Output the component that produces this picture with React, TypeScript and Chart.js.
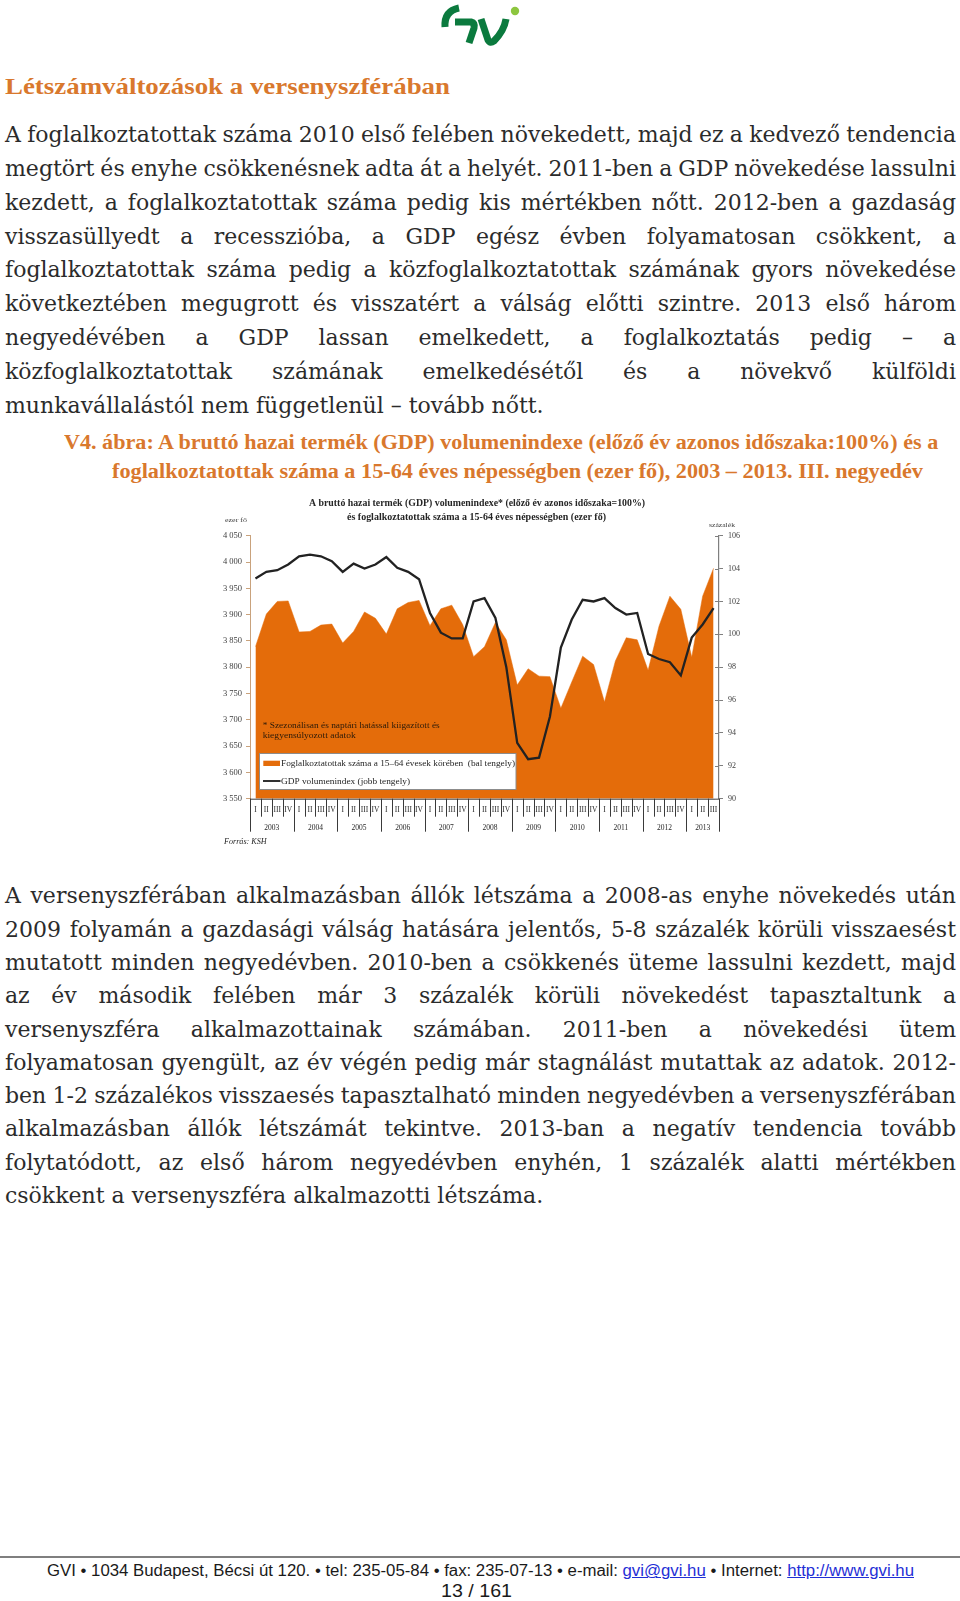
import React, { useEffect, useLayoutEffect, useRef } from 'react';
import { Chart, registerables } from 'chart.js';

Chart.register(...registerables);

// ---------- chart data ----------
const quarterLabels = [
  '2003 I', '2003 II', '2003 III', '2003 IV',
  '2004 I', '2004 II', '2004 III', '2004 IV',
  '2005 I', '2005 II', '2005 III', '2005 IV',
  '2006 I', '2006 II', '2006 III', '2006 IV',
  '2007 I', '2007 II', '2007 III', '2007 IV',
  '2008 I', '2008 II', '2008 III', '2008 IV',
  '2009 I', '2009 II', '2009 III', '2009 IV',
  '2010 I', '2010 II', '2010 III', '2010 IV',
  '2011 I', '2011 II', '2011 III', '2011 IV',
  '2012 I', '2012 II', '2012 III', '2012 IV',
  '2013 I', '2013 II', '2013 III',
];
const yearLabels = ['2003', '2004', '2005', '2006', '2007', '2008', '2009', '2010', '2011', '2012', '2013'];
const quarterNames = ['I', 'II', 'III', 'IV'];

// Foglalkoztatottak száma a 15–64 évesek körében (ezer fő) – bal tengely
const employed = [
  3839, 3901, 3925, 3926, 3867, 3868, 3880, 3882,
  3846, 3868, 3905, 3893, 3863, 3911, 3923, 3927,
  3879, 3911, 3918, 3881, 3820, 3839, 3885, 3852,
  3766, 3797, 3783, 3782, 3722, 3772, 3821, 3805,
  3734, 3812, 3856, 3852, 3794, 3878, 3935, 3910,
  3819, 3935, 3988,
];
// GDP volumenindex (előző év azonos időszaka = 100%) – jobb tengely
const gdpIndex = [
  103.4, 103.8, 103.9, 104.25, 104.75, 104.85, 104.75, 104.45,
  103.8, 104.3, 104.0, 104.25, 104.7, 104.05, 103.8, 103.35,
  101.3, 100.1, 99.75, 99.75, 102.0, 102.2, 101.0, 98.0,
  93.4, 92.4, 92.5, 95.0, 99.2, 100.9, 102.1, 102.0,
  102.2, 101.6, 101.2, 101.3, 98.8, 98.5, 98.3, 97.5,
  99.8, 100.6, 101.6,
];

const leftMin = 3550;
const leftMax = 4050;
const leftStep = 50;
const rightMin = 90;
const rightMax = 106;
const rightStep = 2;

const chartTitle1 = 'A bruttó hazai termék (GDP) volumenindexe* (előző év azonos időszaka=100%)';
const chartTitle2 = 'és foglalkoztatottak száma a 15-64 éves népességben (ezer fő)';
const leftUnit = 'ezer fő';
const rightUnit = 'százalék';
const noteLine1 = '* Szezonálisan és naptári hatással kiigazított és';
const noteLine2 = 'kiegyensúlyozott adatok';
const legendEmp = 'Foglalkoztatottak száma a 15–64 évesek körében  (bal tengely)';
const legendGdp = 'GDP volumenindex (jobb tengely)';
const sourceText = 'Forrás: KSH';

// ---------- page text ----------
const heading = 'Létszámváltozások a versenyszférában';
const para1 = [
  'A foglalkoztatottak száma 2010 első felében növekedett, majd ez a kedvező tendencia',
  'megtört és enyhe csökkenésnek adta át a helyét. 2011-ben a GDP növekedése lassulni',
  'kezdett, a foglalkoztatottak száma pedig kis mértékben nőtt. 2012-ben a gazdaság',
  'visszasüllyedt a recesszióba, a GDP egész évben folyamatosan csökkent, a',
  'foglalkoztatottak száma pedig a közfoglalkoztatottak számának gyors növekedése',
  'következtében megugrott és visszatért a válság előtti szintre. 2013 első három',
  'negyedévében a GDP lassan emelkedett, a foglalkoztatás pedig – a',
  'közfoglalkoztatottak számának emelkedésétől és a növekvő külföldi',
  'munkavállalástól nem függetlenül – tovább nőtt.',
];
const caption1 = 'V4. ábra: A bruttó hazai termék (GDP) volumenindexe (előző év azonos időszaka:100%) és a';
const caption2 = 'foglalkoztatottak száma a 15-64 éves népességben (ezer fő), 2003 – 2013. III. negyedév';
const para2 = [
  'A versenyszférában alkalmazásban állók létszáma a 2008-as enyhe növekedés után',
  '2009 folyamán a gazdasági válság hatására jelentős, 5-8 százalék körüli visszaesést',
  'mutatott minden negyedévben. 2010-ben a csökkenés üteme lassulni kezdett, majd',
  'az év második felében már 3 százalék körüli növekedést tapasztaltunk a',
  'versenyszféra alkalmazottainak számában. 2011-ben a növekedési ütem',
  'folyamatosan gyengült, az év végén pedig már stagnálást mutattak az adatok. 2012-',
  'ben 1-2 százalékos visszaesés tapasztalható minden negyedévben a versenyszférában',
  'alkalmazásban állók létszámát tekintve. 2013-ban a negatív tendencia tovább',
  'folytatódott, az első három negyedévben enyhén, 1 százalék alatti mértékben',
  'csökkent a versenyszféra alkalmazotti létszáma.',
];

const ORANGE = '#E46C0A';
const HEAD_ORANGE = '#D9782D';
const BODY = '"DejaVu Serif", serif';
const SERIF = '"Liberation Serif", serif';
const SANS = '"Liberation Sans", Arial, sans-serif';

type LineProps = {
  x: number;
  baseline: number;
  width?: number;
  mode?: 'justify' | 'fit' | 'none';
  family: string;
  size: number;
  weight?: number;
  color?: string;
  italic?: boolean;
  children: React.ReactNode;
};

function Line({ x, baseline, width, mode = 'none', family, size, weight = 400, color = '#2b2b2b', italic = false, children }: LineProps) {
  const ref = useRef<HTMLSpanElement>(null);
  useLayoutEffect(() => {
    const el = ref.current;
    if (!el) return;
    const apply = () => {
      el.style.wordSpacing = '0px';
      el.style.transform = 'none';
      const w = el.getBoundingClientRect().width;
      if (!width || !w) return;
      if (mode === 'justify') {
        const n = ((el.textContent || '').match(/ /g) || []).length;
        if (n) el.style.wordSpacing = `${(width - w) / n}px`;
      } else if (mode === 'fit') {
        el.style.transform = `scaleX(${width / w})`;
      }
    };
    apply();
    if ((document as any).fonts && (document as any).fonts.ready) {
      (document as any).fonts.ready.then(apply);
    }
  });
  const lh = Math.round(size * 1.4);
  const top = baseline - (lh / 2 + 0.346 * size);
  return (
    <div
      style={{
        position: 'absolute',
        left: x,
        top,
        height: lh,
        lineHeight: `${lh}px`,
        whiteSpace: 'pre',
        fontFamily: family,
        fontSize: size,
        fontWeight: weight,
        fontStyle: italic ? 'italic' : 'normal',
        color,
      }}
    >
      <span ref={ref} style={{ display: 'inline-block', transformOrigin: '0 50%' }}>
        {children}
      </span>
    </div>
  );
}

function fitText(
  ctx: CanvasRenderingContext2D,
  text: string,
  x: number,
  y: number,
  width: number | null,
  font: string,
  color: string,
  align: 'left' | 'center' | 'right' = 'left'
) {
  ctx.save();
  ctx.font = font;
  ctx.fillStyle = color;
  ctx.textBaseline = 'alphabetic';
  ctx.textAlign = 'left';
  const w = ctx.measureText(text).width;
  const tw = width || w;
  const sx = width ? width / w : 1;
  let x0 = x;
  if (align === 'center') x0 = x - tw / 2;
  if (align === 'right') x0 = x - tw;
  ctx.translate(x0, y);
  ctx.scale(sx, 1);
  ctx.fillText(text, 0, 0);
  ctx.restore();
}

const decorPlugin = {
  id: 'decor',
  afterDraw(chart: any) {
    const ctx: CanvasRenderingContext2D = chart.ctx;
    const x = chart.scales.x;
    const y1 = chart.scales.y1;
    const area = chart.chartArea;
    const text = '#262626';

    // titles
    fitText(ctx, chartTitle1, 277, 25.5, 336, `bold 9.5px ${SERIF}`, text, 'center');
    fitText(ctx, chartTitle2, 276.5, 40, 259, `bold 9.5px ${SERIF}`, text, 'center');
    fitText(ctx, leftUnit, 25, 41.5, 22, `6.5px ${SERIF}`, '#404040');
    fitText(ctx, rightUnit, 509, 46.5, 26, `6.5px ${SERIF}`, '#404040');

    // bottom axis line
    ctx.save();
    ctx.strokeStyle = '#3a3a3a';
    ctx.lineWidth = 1;
    ctx.beginPath();
    ctx.moveTo(area.left, area.bottom + 0.5);
    ctx.lineTo(area.right, area.bottom + 0.5);
    ctx.stroke();

    // right axis inner tick marks
    ctx.strokeStyle = '#7f7f7f';
    for (let v = rightMin; v <= rightMax; v += rightStep) {
      const py = Math.round(y1.getPixelForValue(v)) + 0.5;
      ctx.beginPath();
      ctx.moveTo(area.right - 4, py);
      ctx.lineTo(area.right, py);
      ctx.stroke();
    }

    // category separators & labels
    const step = x.getPixelForValue(1) - x.getPixelForValue(0);
    ctx.strokeStyle = '#3a3a3a';
    for (let i = 0; i <= quarterLabels.length; i++) {
      const bx = Math.round(x.getPixelForValue(i) - step / 2) + 0.5;
      const isYear = i % 4 === 0 || i === quarterLabels.length;
      ctx.beginPath();
      ctx.moveTo(bx, area.bottom);
      ctx.lineTo(bx, area.bottom + (isYear ? 33 : 18));
      ctx.stroke();
    }
    ctx.restore();
    for (let i = 0; i < quarterLabels.length; i++) {
      const cx = x.getPixelForValue(i);
      fitText(ctx, quarterNames[i % 4], cx, area.bottom + 13.5, null, `7.5px ${SERIF}`, text, 'center');
    }
    for (let k = 0; k < yearLabels.length; k++) {
      const first = k * 4;
      const last = Math.min(first + 3, quarterLabels.length - 1);
      const cx = (x.getPixelForValue(first) + x.getPixelForValue(last)) / 2;
      fitText(ctx, yearLabels[k], cx, area.bottom + 31, null, `7.5px ${SERIF}`, text, 'center');
    }

    // note
    fitText(ctx, noteLine1, 62.7, 247.5, 177, `8px ${SERIF}`, '#2a1a0a');
    fitText(ctx, noteLine2, 62.7, 258.2, 93, `8px ${SERIF}`, '#2a1a0a');

    // legend box
    ctx.save();
    ctx.fillStyle = '#ffffff';
    ctx.fillRect(59.3, 273.3, 256.7, 36);
    ctx.strokeStyle = '#8c8c8c';
    ctx.lineWidth = 1;
    ctx.strokeRect(59.5, 273.5, 256.5, 36);
    ctx.fillStyle = ORANGE;
    ctx.fillRect(63.3, 280.7, 16.7, 5.3);
    ctx.strokeStyle = '#1a1a1a';
    ctx.lineWidth = 1.8;
    ctx.beginPath();
    ctx.moveTo(63, 301);
    ctx.lineTo(80.5, 301);
    ctx.stroke();
    ctx.restore();
    fitText(ctx, legendEmp, 81, 285.8, 234, `8px ${SERIF}`, text);
    fitText(ctx, legendGdp, 81, 303.8, 129, `8px ${SERIF}`, text);

    // source
    fitText(ctx, sourceText, 24, 364.2, 42.7, `italic 8.5px ${SERIF}`, text);
  },
};

function GdpChart() {
  const ref = useRef<HTMLCanvasElement>(null);
  useEffect(() => {
    if (!ref.current) return;
    const fmt = (v: number) => {
      const th = Math.floor(v / 1000);
      const rest = String(Math.round(v % 1000)).padStart(3, '0');
      return `${th} ${rest}`;
    };
    const chart = new Chart(ref.current, {
      type: 'line',
      data: {
        labels: quarterLabels,
        datasets: [
          {
            label: legendGdp,
            data: gdpIndex,
            yAxisID: 'y1',
            borderColor: '#222222',
            borderWidth: 2.3,
            pointRadius: 0,
            fill: false,
            tension: 0,
            order: 0,
          },
          {
            label: legendEmp,
            data: employed,
            yAxisID: 'y',
            backgroundColor: ORANGE,
            borderColor: ORANGE,
            borderWidth: 0.5,
            pointRadius: 0,
            fill: 'start',
            tension: 0,
            order: 1,
          },
        ],
      },
      options: {
        responsive: false,
        animation: false,
        events: [],
        layout: { padding: { top: 55.7, left: 0, right: 0, bottom: 0 } },
        plugins: {
          legend: { display: false },
          tooltip: { enabled: false },
          title: { display: false },
        },
        scales: {
          x: {
            type: 'category',
            offset: true,
            grid: { display: false },
            border: { display: false },
            ticks: { display: false },
            afterFit: (s: any) => {
              s.height = 56.3;
            },
          },
          y: {
            position: 'left',
            min: leftMin,
            max: leftMax,
            ticks: {
              stepSize: leftStep,
              padding: 4,
              color: '#404040',
              font: { family: SERIF, size: 8.5 },
              callback: (v: any) => fmt(Number(v)),
            },
            grid: { drawOnChartArea: false, tickLength: 4, color: '#c9a27c' },
            border: { color: '#c9a27c', width: 1 },
            afterFit: (s: any) => {
              s.width = 50;
            },
          },
          y1: {
            position: 'right',
            min: rightMin,
            max: rightMax,
            ticks: {
              stepSize: rightStep,
              padding: 5,
              color: '#404040',
              font: { family: SERIF, size: 8 },
            },
            grid: { drawOnChartArea: false, tickLength: 4, color: '#7f7f7f' },
            border: { color: '#7f7f7f', width: 1.2 },
            afterFit: (s: any) => {
              s.width = 41;
            },
          },
        },
      } as any,
      plugins: [decorPlugin],
    });
    return () => chart.destroy();
  }, []);
  return (
    <canvas
      ref={ref}
      width={560}
      height={375}
      style={{ position: 'absolute', left: 200, top: 480, width: 560, height: 375 }}
    />
  );
}

function Logo() {
  return (
    <svg
      width={90}
      height={48}
      viewBox="0 0 90 48"
      style={{ position: 'absolute', left: 438, top: 0 }}
    >
      <path d="M7 27 Q6 11 21 8" stroke="#0b7a3e" strokeWidth={7} fill="none" strokeLinecap="butt" />
      <path d="M17 22 L33 22 Q37 23 36 28 L31 43" stroke="#0b7a3e" strokeWidth={7} fill="none" />
      <path d="M43 19 L50 40 Q52 44 56 41 Q66 31 68 19" stroke="#0b7a3e" strokeWidth={7} fill="none" />
      <circle cx={77} cy={11} r={4.2} fill="#8dc63f" />
    </svg>
  );
}

export default function App() {
  const p1Base = 142.3;
  const p1Step = 33.8;
  const p2Base = 903.3;
  const p2Step = 33.33;
  return (
    <div style={{ position: 'absolute', left: 0, top: 0, width: 960, height: 1601, background: '#ffffff', overflow: 'hidden' }}>
      <Logo />
      <Line x={5} baseline={94} width={445} mode="fit" family={SERIF} size={24} weight={700} color={HEAD_ORANGE}>
        {heading}
      </Line>
      {para1.map((t, i) => (
        <Line
          key={'p1' + i}
          x={5}
          baseline={p1Base + p1Step * i}
          width={951}
          mode={i === para1.length - 1 ? 'none' : 'justify'}
          family={BODY}
          size={22}
        >
          {t}
        </Line>
      ))}
      <Line x={64.3} baseline={449.3} width={874.3} mode="fit" family={SERIF} size={20} weight={700} color={HEAD_ORANGE}>
        {caption1}
      </Line>
      <Line x={112.3} baseline={478.3} width={811} mode="fit" family={SERIF} size={20} weight={700} color={HEAD_ORANGE}>
        {caption2}
      </Line>
      <GdpChart />
      {para2.map((t, i) => (
        <Line
          key={'p2' + i}
          x={5}
          baseline={p2Base + p2Step * i}
          width={951}
          mode={i === para2.length - 1 ? 'none' : 'justify'}
          family={BODY}
          size={22}
        >
          {t}
        </Line>
      ))}
      <div style={{ position: 'absolute', left: 0, top: 1555.5, width: 960, height: 2, background: '#7f7f7f' }} />
      <Line x={47} baseline={1577} width={867} mode="fit" family={SANS} size={16} color="#1a1a1a">
        {'GVI • 1034 Budapest, Bécsi út 120. • tel: 235-05-84 • fax: 235-07-13 • e-mail: '}
        <span style={{ color: '#1f2fd6', textDecoration: 'underline' }}>gvi@gvi.hu</span>
        {' • Internet: '}
        <span style={{ color: '#1f2fd6', textDecoration: 'underline' }}>http://www.gvi.hu</span>
      </Line>
      <Line x={441} baseline={1598} width={71} mode="fit" family={SANS} size={18} color="#1a1a1a">
        {'13 / 161'}
      </Line>
    </div>
  );
}
